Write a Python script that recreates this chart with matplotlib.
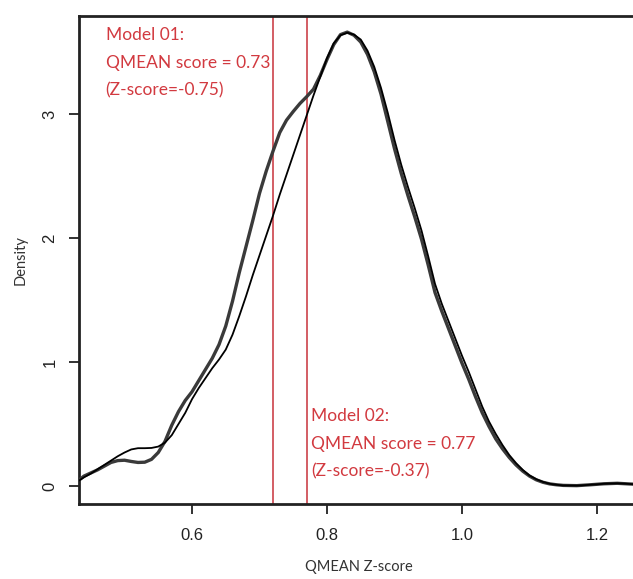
import matplotlib
matplotlib.use("Agg")
import matplotlib.pyplot as plt

# Density curve A (thicker, with shoulder near 0.75)
xa = [0.433, 0.44, 0.45, 0.46, 0.47, 0.48, 0.49, 0.50, 0.51, 0.52, 0.53, 0.54, 0.55,
      0.56, 0.57, 0.58, 0.59, 0.60, 0.61, 0.62, 0.63, 0.64, 0.65, 0.66, 0.67, 0.68,
      0.69, 0.70, 0.71, 0.72, 0.73, 0.74, 0.75, 0.76, 0.77, 0.78, 0.79, 0.80, 0.81,
      0.82, 0.83, 0.84, 0.85, 0.86, 0.87, 0.88, 0.89, 0.90, 0.91, 0.92, 0.93, 0.94,
      0.95, 0.96, 0.97, 0.98, 0.99, 1.00, 1.01, 1.02, 1.03, 1.04, 1.05, 1.06, 1.07,
      1.08, 1.09, 1.10, 1.11, 1.12, 1.13, 1.14, 1.15, 1.17, 1.19, 1.21, 1.23, 1.26]
ya = [0.05, 0.08, 0.105, 0.13, 0.16, 0.19, 0.205, 0.208, 0.198, 0.19, 0.192, 0.215, 0.27,
      0.36, 0.49, 0.60, 0.69, 0.76, 0.85, 0.94, 1.03, 1.14, 1.29, 1.49, 1.72, 1.93,
      2.14, 2.36, 2.54, 2.70, 2.85, 2.95, 3.02, 3.085, 3.14, 3.20, 3.31, 3.44, 3.56,
      3.64, 3.66, 3.635, 3.58, 3.48, 3.34, 3.16, 2.94, 2.72, 2.52, 2.34, 2.17, 1.99,
      1.78, 1.56, 1.41, 1.27, 1.13, 0.99, 0.86, 0.72, 0.59, 0.48, 0.38, 0.30, 0.23,
      0.17, 0.12, 0.08, 0.05, 0.03, 0.017, 0.01, 0.005, 0.003, 0.01, 0.018, 0.022, 0.013]

# Density curve B (thinner)
xb = [0.433, 0.44, 0.45, 0.46, 0.47, 0.48, 0.49, 0.50, 0.51, 0.52, 0.53, 0.54, 0.55,
      0.56, 0.57, 0.58, 0.59, 0.60, 0.61, 0.62, 0.63, 0.64, 0.65, 0.66, 0.67, 0.68,
      0.69, 0.70, 0.71, 0.72, 0.73, 0.74, 0.75, 0.76, 0.77, 0.78, 0.79, 0.80, 0.81,
      0.82, 0.83, 0.84, 0.85, 0.86, 0.87, 0.88, 0.89, 0.90, 0.91, 0.92, 0.93, 0.94,
      0.95, 0.96, 0.97, 0.98, 0.99, 1.00, 1.01, 1.02, 1.03, 1.04, 1.05, 1.06, 1.07,
      1.08, 1.09, 1.10, 1.11, 1.12, 1.13, 1.14, 1.15, 1.17, 1.19, 1.21, 1.23, 1.26]
yb = [0.045, 0.07, 0.10, 0.135, 0.17, 0.205, 0.24, 0.27, 0.295, 0.305, 0.305, 0.307, 0.318,
      0.35, 0.41, 0.50, 0.59, 0.70, 0.79, 0.87, 0.95, 1.02, 1.10, 1.22, 1.37, 1.53,
      1.70, 1.86, 2.02, 2.18, 2.35, 2.51, 2.67, 2.83, 2.99, 3.15, 3.30, 3.45, 3.57,
      3.635, 3.655, 3.64, 3.60, 3.51, 3.38, 3.21, 3.01, 2.79, 2.59, 2.41, 2.24, 2.06,
      1.85, 1.63, 1.47, 1.33, 1.19, 1.05, 0.92, 0.78, 0.64, 0.52, 0.42, 0.33, 0.25,
      0.185, 0.13, 0.085, 0.055, 0.033, 0.018, 0.01, 0.005, 0.003, 0.01, 0.018, 0.022, 0.013]

model_scores = [0.72, 0.77]
model_labels = ["Model 01:\nQMEAN score = 0.73\n(Z-score=-0.75)",
                "Model 02:\nQMEAN score = 0.77\n(Z-score=-0.37)"]
xticks = [0.6, 0.8, 1.0, 1.2]
yticks = [0, 1, 2, 3]

W, H = 633, 579
fig = plt.figure(figsize=(W / 100, H / 100), dpi=100)
ax = fig.add_axes([79 / W, 1 - 504 / H, 1 - 79 / W + 0.01, (504 - 16) / H])

ax.plot(xa, ya, color="#3a3a3a", lw=2.4, solid_capstyle="round", zorder=3)
ax.plot(xb, yb, color="#000000", lw=1.3, zorder=4)

red = "#d23a40"
for s in model_scores:
    ax.axvline(s, color="#c8323a", lw=1.1, zorder=2)

ax.set_xlim(0.4326, 1.2533 + 0.01 * (0.8207 / (1 - 79 / W)))
ax.set_ylim(-0.145, 3.79)

ax.set_xticks(xticks)
ax.set_xticklabels(["0.6", "0.8", "1.0", "1.2"], family="Liberation Sans", fontsize=12)
ax.set_yticks(yticks)
ax.set_yticklabels(["0", "1", "2", "3"], family="Liberation Sans", fontsize=12,
                   rotation=90, va="center")
ax.tick_params(axis="both", length=7.5, width=1.3, color="#222222", labelcolor="#222222")
ax.tick_params(axis="x", pad=10)
ax.tick_params(axis="y", pad=8)

for side in ["left", "bottom", "top"]:
    ax.spines[side].set_linewidth(2.0)
    ax.spines[side].set_color("#222222")
ax.spines["right"].set_visible(False)

ax.set_xlabel("QMEAN Z-score", family="Lato", fontsize=10.5, color="#333333", labelpad=12)
ax.set_ylabel("Density", family="Lato", fontsize=10.5, color="#333333", labelpad=11)

ax.text(0.472, 3.70, model_labels[0], color=red, family="Lato", fontsize=12.5,
        va="top", ha="left", linespacing=1.9)
ax.text(0.7763, 0.63, model_labels[1], color=red, family="Lato", fontsize=12.5,
        va="top", ha="left", linespacing=1.9)

fig.savefig("out.png", dpi=100)
